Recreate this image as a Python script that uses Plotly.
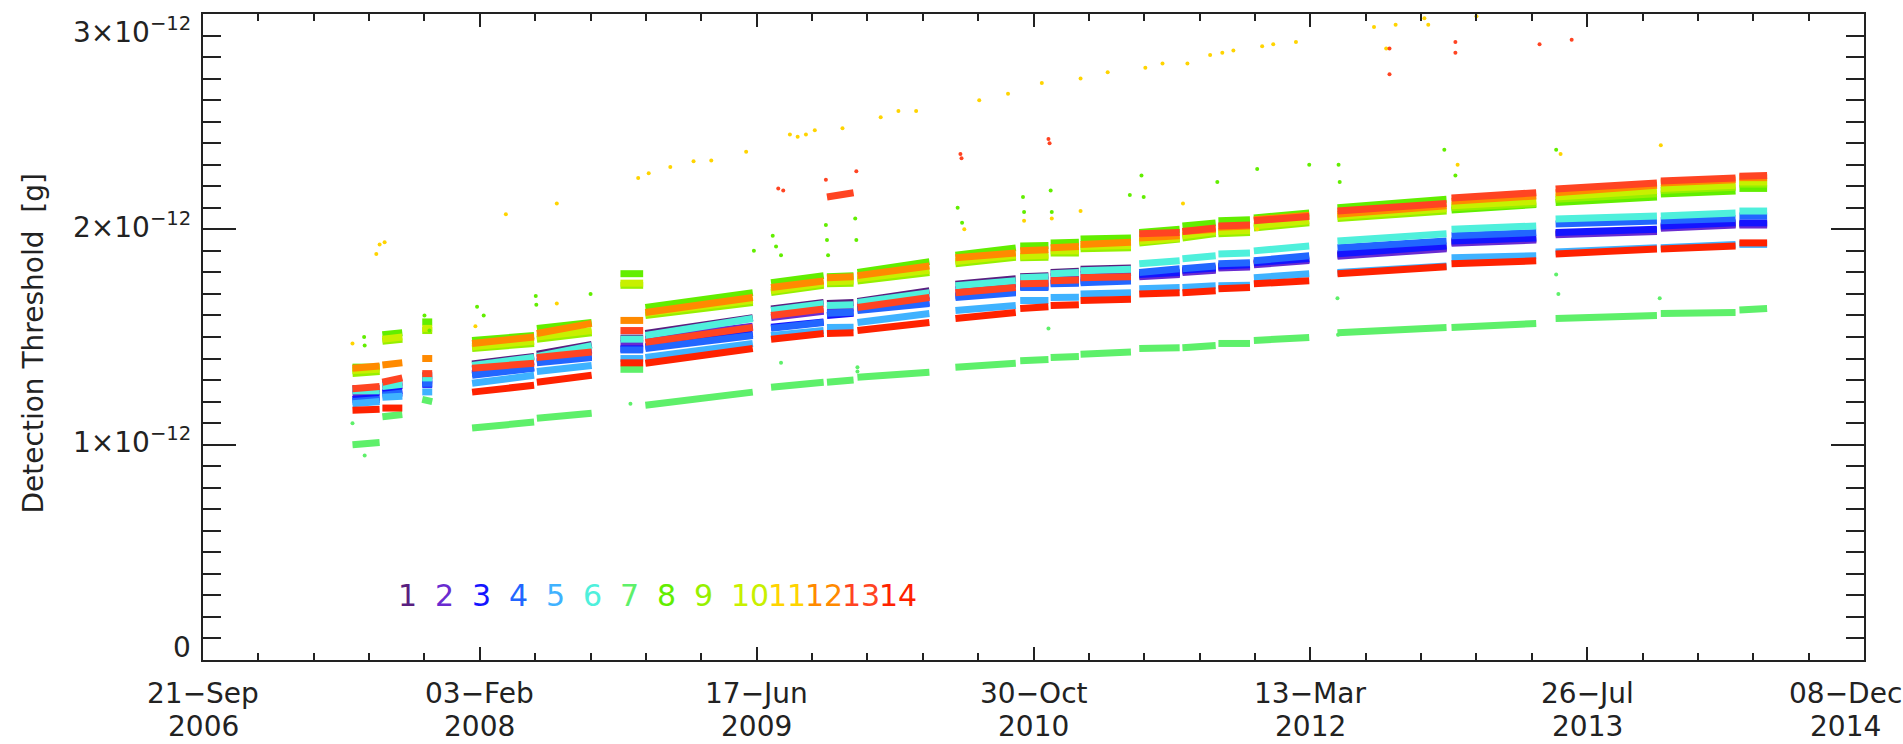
import plotly.graph_objects as go
import pandas as pd

UNIT = 1e-12
FONT = "DejaVu Sans"
TXT = "#222222"

# ---- segment boundaries (observation periods) ----
seg_start = ["2007-06-18", "2007-08-11", "2007-10-22", "2008-01-20", "2008-05-16", "2008-10-14",
             "2008-11-28", "2009-07-13", "2009-10-22", "2009-12-16", "2010-06-11", "2010-10-06",
             "2010-11-30", "2011-01-23", "2011-05-09", "2011-07-26", "2011-09-29", "2011-12-02",
             "2012-05-01", "2012-11-23", "2013-05-30", "2013-12-06", "2014-04-27"]
seg_end = ["2007-08-06", "2007-09-16", "2007-11-09", "2008-05-11", "2008-08-23", "2008-11-24",
           "2009-06-10", "2009-10-16", "2009-12-09", "2010-04-25", "2010-09-28", "2010-11-26",
           "2011-01-20", "2011-04-24", "2011-07-21", "2011-09-24", "2011-11-25", "2012-03-11",
           "2012-11-14", "2013-04-25", "2013-11-29", "2014-04-20", "2014-06-16"]

# ---- detection threshold per detector (units of 1e-12 g), value at start / end of each segment ----
s1_a = [1.26, 1.285, 1.32, 1.375, 1.42, 1.495, 1.516, 1.63, 1.655, 1.665, 1.745, 1.78, 1.80, 1.815, 1.785, 1.805, 1.825, 1.84, 1.88, 1.94, 1.98, 2.01, 2.025]
s1_b = [1.26, 1.29, 1.32, 1.41, 1.465, 1.495, 1.59, 1.66, 1.66, 1.715, 1.77, 1.785, 1.805, 1.82, 1.795, 1.815, 1.83, 1.86, 1.915, 1.955, 1.995, 2.025, 2.025]
s2_a = [1.235, 1.265, 1.30, 1.35, 1.40, 1.47, 1.49, 1.59, 1.63, 1.645, 1.72, 1.76, 1.78, 1.79, 1.78, 1.80, 1.82, 1.835, 1.875, 1.935, 1.975, 2.005, 2.02]
s2_b = [1.245, 1.275, 1.30, 1.385, 1.44, 1.47, 1.55, 1.62, 1.635, 1.69, 1.745, 1.765, 1.785, 1.80, 1.79, 1.81, 1.825, 1.855, 1.91, 1.95, 1.99, 2.02, 2.02]
s3_a = [1.21, 1.24, 1.28, 1.33, 1.385, 1.445, 1.455, 1.545, 1.60, 1.63, 1.69, 1.735, 1.75, 1.76, 1.79, 1.81, 1.83, 1.845, 1.886, 1.946, 1.985, 2.016, 2.03]
s3_b = [1.22, 1.25, 1.28, 1.36, 1.41, 1.445, 1.515, 1.57, 1.61, 1.66, 1.71, 1.735, 1.755, 1.765, 1.80, 1.82, 1.835, 1.865, 1.923, 1.96, 2.0, 2.03, 2.03]
s4_a = [1.20, 1.23, 1.285, 1.322, 1.38, 1.44, 1.447, 1.54, 1.61, 1.623, 1.683, 1.73, 1.747, 1.752, 1.80, 1.817, 1.84, 1.854, 1.914, 1.97, 2.025, 2.04, 2.062]
s4_b = [1.21, 1.24, 1.285, 1.355, 1.405, 1.44, 1.507, 1.567, 1.615, 1.655, 1.706, 1.73, 1.75, 1.76, 1.817, 1.83, 1.845, 1.877, 1.946, 1.985, 2.039, 2.05, 2.062]
s5_a = [1.19, 1.22, 1.245, 1.285, 1.34, 1.40, 1.405, 1.507, 1.544, 1.567, 1.623, 1.669, 1.683, 1.70, 1.724, 1.73, 1.738, 1.775, 1.80, 1.868, 1.895, 1.915, 1.93]
s5_b = [1.20, 1.225, 1.245, 1.322, 1.368, 1.40, 1.47, 1.53, 1.545, 1.609, 1.646, 1.67, 1.685, 1.705, 1.73, 1.738, 1.74, 1.794, 1.83, 1.877, 1.915, 1.93, 1.93]
s6_a = [1.25, 1.27, 1.31, 1.368, 1.41, 1.49, 1.507, 1.623, 1.646, 1.66, 1.738, 1.775, 1.794, 1.808, 1.84, 1.863, 1.886, 1.90, 1.946, 2.0, 2.048, 2.062, 2.085]
s6_b = [1.25, 1.28, 1.31, 1.405, 1.46, 1.49, 1.586, 1.655, 1.65, 1.706, 1.761, 1.78, 1.80, 1.815, 1.854, 1.877, 1.89, 1.923, 1.98, 2.016, 2.062, 2.076, 2.085]
s7_a = [1.00, 1.13, 1.21, 1.077, 1.123, 1.35, 1.183, 1.267, 1.29, 1.313, 1.36, 1.39, 1.405, 1.42, 1.447, 1.45, 1.47, 1.484, 1.52, 1.544, 1.586, 1.609, 1.625]
s7_b = [1.01, 1.14, 1.20, 1.105, 1.146, 1.35, 1.244, 1.29, 1.30, 1.336, 1.378, 1.395, 1.41, 1.43, 1.45, 1.46, 1.47, 1.498, 1.544, 1.563, 1.60, 1.614, 1.632]
s8_a = [1.36, 1.51, 1.57, 1.484, 1.54, 1.794, 1.637, 1.752, 1.78, 1.80, 1.88, 1.923, 1.937, 1.955, 1.985, 2.016, 2.04, 2.053, 2.10, 2.09, 2.125, 2.164, 2.19]
s8_b = [1.36, 1.52, 1.57, 1.507, 1.568, 1.794, 1.706, 1.785, 1.785, 1.85, 1.914, 1.925, 1.94, 1.96, 2.0, 2.03, 2.045, 2.076, 2.14, 2.115, 2.15, 2.178, 2.19]
s9_a = [1.33, 1.48, 1.53, 1.447, 1.49, 1.74, 1.60, 1.706, 1.747, 1.76, 1.84, 1.868, 1.89, 1.91, 1.937, 1.96, 1.98, 2.006, 2.05, 2.10, 2.14, 2.18, 2.21]
s9_b = [1.34, 1.49, 1.53, 1.47, 1.52, 1.74, 1.66, 1.74, 1.75, 1.80, 1.87, 1.87, 1.89, 1.915, 1.955, 1.98, 1.985, 2.03, 2.085, 2.12, 2.165, 2.195, 2.21]
s10_a = [1.345, 1.49, 1.54, 1.455, 1.50, 1.75, 1.61, 1.715, 1.755, 1.77, 1.85, 1.875, 1.90, 1.92, 1.945, 1.97, 1.99, 2.015, 2.06, 2.11, 2.15, 2.19, 2.22]
s10_b = [1.35, 1.50, 1.54, 1.48, 1.53, 1.75, 1.67, 1.75, 1.76, 1.81, 1.88, 1.88, 1.90, 1.925, 1.96, 1.99, 1.995, 2.04, 2.095, 2.13, 2.18, 2.205, 2.22]
s11_a = [None] * 23
s11_b = [None] * 23
s12_a = [1.355, 1.37, 1.40, 1.47, 1.516, 1.577, 1.614, 1.73, 1.775, 1.785, 1.868, 1.90, 1.914, 1.93, 1.96, 1.99, 2.01, 2.045, 2.07, 2.13, 2.17, 2.215, 2.24]
s12_b = [1.365, 1.38, 1.40, 1.50, 1.563, 1.577, 1.683, 1.76, 1.78, 1.83, 1.89, 1.905, 1.92, 1.94, 1.97, 2.0, 2.015, 2.065, 2.11, 2.155, 2.205, 2.23, 2.24]
s13_a = [1.26, 1.29, 1.33, 1.355, 1.405, 1.53, 1.475, 1.60, 2.15, 1.637, 1.706, 1.747, 1.761, 1.775, 1.98, 1.99, 2.016, 2.04, 2.085, 2.145, 2.187, 2.224, 2.247]
s13_b = [1.27, 1.31, 1.33, 1.378, 1.43, 1.53, 1.544, 1.63, 2.17, 1.683, 1.73, 1.75, 1.765, 1.78, 1.985, 2.006, 2.02, 2.06, 2.12, 2.17, 2.215, 2.238, 2.25]
s14_a = [1.16, 1.17, None, 1.244, 1.29, 1.38, 1.378, 1.49, 1.516, 1.53, 1.586, 1.632, 1.646, 1.669, 1.70, 1.706, 1.724, 1.747, 1.794, 1.84, 1.886, 1.909, 1.937]
s14_b = [1.165, 1.17, None, 1.276, 1.322, 1.38, 1.447, 1.516, 1.52, 1.567, 1.614, 1.64, 1.65, 1.675, 1.706, 1.715, 1.73, 1.761, 1.826, 1.854, 1.909, 1.923, 1.937]

# ---- isolated points (outliers) ----
s7_out_d = ["2007-06-18", "2007-07-10", "2008-11-01", "2009-07-31", "2009-12-16", "2009-12-16",
            "2010-11-26", "2012-05-01", "2012-05-02", "2013-05-31", "2013-06-04", "2013-12-04"]
s7_out_v = [1.10, 0.95, 1.19, 1.38, 1.36, 1.34, 1.54, 1.68, 1.51, 1.79, 1.70, 1.68]
s8_out_d = ["2007-07-09", "2007-07-10", "2007-10-26", "2007-11-04", "2008-01-29", "2008-02-10",
            "2008-05-14", "2008-05-15", "2008-08-21", "2009-06-12", "2009-07-16", "2009-07-22",
            "2009-07-31", "2009-10-20", "2009-10-22", "2009-10-24", "2009-12-12", "2009-12-14",
            "2010-06-15", "2010-06-23", "2010-10-11", "2010-10-13", "2010-11-30", "2010-12-02",
            "2011-04-22", "2011-05-13", "2011-05-17", "2011-09-27", "2011-12-08", "2012-03-11",
            "2012-05-03", "2012-05-05", "2012-11-10", "2012-11-30", "2013-05-31"]
s8_out_v = [1.50, 1.46, 1.60, 1.53, 1.64, 1.60, 1.69, 1.65, 1.70, 1.90, 1.97, 1.92,
            1.88, 2.02, 1.95, 1.88, 2.05, 1.95, 2.10, 2.03, 2.15, 2.08, 2.18, 2.08,
            2.16, 2.25, 2.15, 2.22, 2.28, 2.30, 2.30, 2.22, 2.37, 2.25, 2.37]
s11_out_d = ["2007-06-18", "2007-07-31", "2007-08-06", "2007-08-15", "2008-01-26", "2008-03-21",
             "2008-06-21", "2008-06-21", "2008-11-15", "2008-12-04", "2009-01-12", "2009-02-23",
             "2009-03-27", "2009-05-29", "2009-08-16", "2009-08-30", "2009-09-14", "2009-09-30",
             "2009-11-19", "2010-01-27", "2010-02-28", "2010-04-01", "2010-06-27", "2010-07-24",
             "2010-09-14", "2010-10-13", "2010-11-14", "2010-12-02", "2011-01-23", "2011-01-23",
             "2011-03-13", "2011-05-20", "2011-06-20", "2011-07-27", "2011-08-04", "2011-09-14",
             "2011-10-06", "2011-10-26", "2011-12-08", "2011-12-17", "2012-01-06", "2012-02-16",
             "2012-07-28", "2012-07-06", "2012-08-14", "2012-10-05", "2012-10-12", "2012-12-04",
             "2013-01-07", "2013-06-08", "2013-12-06"]
s11_out_v = [1.47, 1.886, 1.93, 1.94, 1.55, 2.07, 2.12, 1.655, 2.238, 2.26, 2.29, 2.316,
             2.32, 2.36, 2.44, 2.43, 2.44, 2.46, 2.47, 2.52, 2.55, 2.55, 2.00, 2.60,
             2.63, 2.04, 2.68, 2.05, 2.70, 2.085, 2.73, 2.75, 2.77, 2.12, 2.77, 2.81,
             2.82, 2.83, 2.00, 2.85, 2.86, 2.87, 2.84, 2.94, 2.95, 2.98, 2.95, 2.30,
             2.99, 2.35, 2.39]
s13_out_d = ["2009-07-26", "2009-08-04", "2009-10-20", "2009-12-14", "2010-06-20", "2010-06-22",
             "2010-11-26", "2010-11-28", "2012-08-03", "2012-08-03", "2012-11-30", "2012-11-30",
             "2013-05-01", "2013-06-28"]
s13_out_v = [2.19, 2.18, 2.23, 2.27, 2.35, 2.33, 2.42, 2.40, 2.84, 2.72, 2.87, 2.82, 2.86, 2.88]

series_names = ["1", "2", "3", "4", "5", "6", "7", "8", "9", "10", "11", "12", "13", "14"]
series_colors = ["#5a1f80", "#6a2bd0", "#1414ff", "#2266ff", "#3fb2ff", "#4ff0dc", "#5ef06a",
                 "#62ee00", "#96f000", "#c8f000", "#ffd400", "#ff8a00", "#ff4422", "#ff2200"]
series_start = [s1_a, s2_a, s3_a, s4_a, s5_a, s6_a, s7_a, s8_a, s9_a, s10_a, s11_a, s12_a, s13_a, s14_a]
series_end = [s1_b, s2_b, s3_b, s4_b, s5_b, s6_b, s7_b, s8_b, s9_b, s10_b, s11_b, s12_b, s13_b, s14_b]

outliers = {7: (s7_out_d, s7_out_v), 8: (s8_out_d, s8_out_v), 11: (s11_out_d, s11_out_v),
            13: (s13_out_d, s13_out_v)}

# ---- axis ticks ----
x_tick_dates = ["2006-09-21", "2008-02-03", "2009-06-17", "2010-10-30", "2012-03-13", "2013-07-26", "2014-12-08"]
x_tick_day = ["21\u2212Sep", "03\u2212Feb", "17\u2212Jun", "30\u2212Oct", "13\u2212Mar", "26\u2212Jul", "08\u2212Dec"]
x_tick_year = ["2006", "2008", "2009", "2010", "2012", "2013", "2014"]
y_tick_vals = [0, 1, 2, 3]
y_tick_text = ["0", "1\u00d710<sup>\u221212</sup>", "2\u00d710<sup>\u221212</sup>", "3\u00d710<sup>\u221212</sup>"]
y_title = "Detection Threshold  [g]"

W, H = 1903, 744
L, R, T, B = 203, 1864, 12, 660

fig = go.Figure()

for i in range(14):
    xs, ys = [], []
    for k in range(len(seg_start)):
        a, b = series_start[i][k], series_end[i][k]
        if a is None or b is None:
            continue
        xs += [seg_start[k], seg_end[k], None]
        ys += [a * UNIT, b * UNIT, None]
    if xs:
        fig.add_trace(go.Scatter(x=xs, y=ys, mode="lines", connectgaps=False,
                                 line=dict(color=series_colors[i], width=7),
                                 hoverinfo="skip", showlegend=False))

for sid, (d, v) in outliers.items():
    fig.add_trace(go.Scatter(x=d, y=[vv * UNIT for vv in v], mode="markers",
                             marker=dict(color=series_colors[sid - 1], size=4, line=dict(width=0)),
                             hoverinfo="skip", showlegend=False))

minor_x = [d.strftime("%Y-%m-%d") for d in pd.date_range(x_tick_dates[0], x_tick_dates[-1], freq="100D")]

axis_common = dict(showline=True, linecolor=TXT, linewidth=2, mirror="ticks", ticks="inside",
                   tickcolor=TXT, tickwidth=2, showgrid=False, zeroline=False, showticklabels=False)

fig.update_xaxes(type="date", range=[x_tick_dates[0], x_tick_dates[-1]], tickvals=x_tick_dates,
                 ticklen=13, minor=dict(tickvals=minor_x, ticks="inside", ticklen=7,
                                        tickcolor=TXT, tickwidth=2, showgrid=False),
                 **axis_common)
fig.update_yaxes(range=[0, 3 * UNIT], tickvals=[v * UNIT for v in y_tick_vals], ticklen=33,
                 minor=dict(dtick=0.1 * UNIT, tick0=0, ticks="inside", ticklen=18,
                            tickcolor=TXT, tickwidth=2, showgrid=False),
                 **axis_common)

ann = []
tfont = dict(family=FONT, size=28, color=TXT)
n_ticks = len(x_tick_dates)
for j, (d, day, yr) in enumerate(zip(x_tick_dates, x_tick_day, x_tick_year)):
    xs_shift = -19 if j == n_ticks - 1 else 0   # keep the last label inside the page
    ann.append(dict(x=d, y=0, xref="x", yref="paper", text=day, showarrow=False,
                    xanchor="center", yanchor="middle", yshift=-33, xshift=xs_shift, font=tfont))
    ann.append(dict(x=d, y=0, xref="x", yref="paper", text=yr, showarrow=False,
                    xanchor="center", yanchor="middle", yshift=-66, xshift=xs_shift, font=tfont))
for v, t in zip(y_tick_vals, y_tick_text):
    if v == 0:
        ya, ys = "bottom", -6
    elif v == 3:
        ya, ys = "top", 4
    else:
        ya, ys = "middle", 4
    ann.append(dict(x=0, y=v * UNIT, xref="paper", yref="y", text=t, showarrow=False,
                    xanchor="right", yanchor=ya, xshift=-10, yshift=ys, font=tfont))
ann.append(dict(x=0, y=0.49, xref="paper", yref="paper", text=y_title, textangle=-90,
                showarrow=False, xanchor="center", yanchor="middle", xshift=-(L - 33),
                font=dict(family=FONT, size=28, color=TXT)))
for i, name in enumerate(series_names):
    px = 396 + 37 * i
    ann.append(dict(x=(px - L) / (R - L), y=(B - 595) / (B - T), xref="paper", yref="paper",
                    text=name, showarrow=False, xanchor="left", yanchor="middle",
                    font=dict(family=FONT, size=30, color=series_colors[i])))

fig.update_layout(width=W, height=H, autosize=False,
                  margin=dict(l=L, r=W - R, t=T, b=H - B, pad=0),
                  plot_bgcolor="white", paper_bgcolor="white",
                  annotations=ann, showlegend=False)

fig.write_html("out.html")
